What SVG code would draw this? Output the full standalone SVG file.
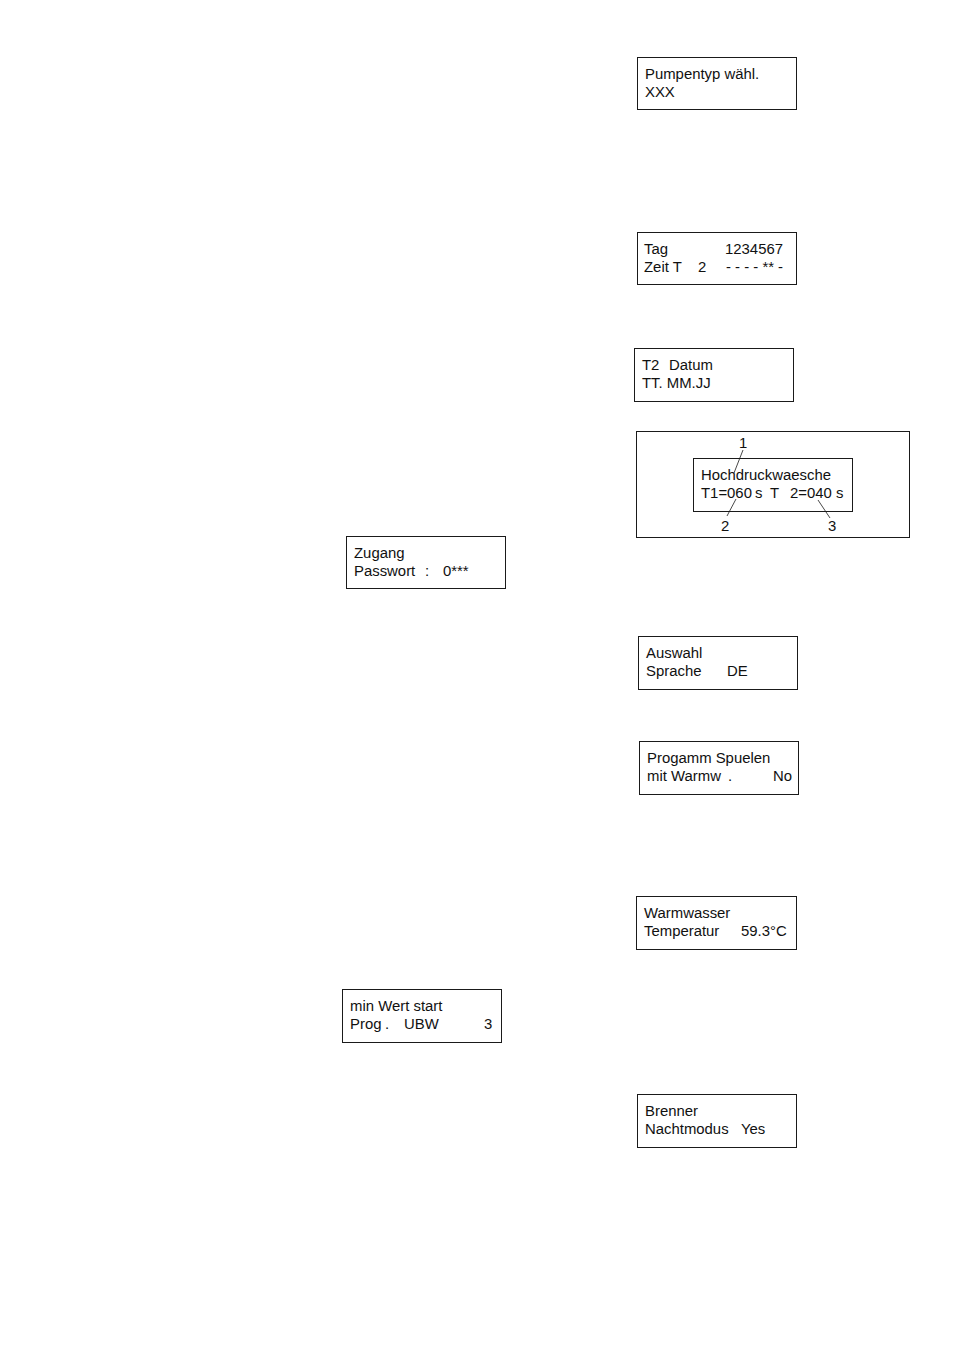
<svg xmlns="http://www.w3.org/2000/svg" width="954" height="1350" viewBox="0 0 954 1350">
<style>
.b{fill:none;stroke:#1a1a1a;stroke-width:1}
.t{font-family:"Liberation Sans",Arial,sans-serif;font-size:14.9px;fill:#111;white-space:pre}
.l{stroke:#1a1a1a;stroke-width:0.8;fill:none}
</style>
<rect width="954" height="1350" fill="#fff"/>
<g id="pumpentyp"><rect class="b" x="637.5" y="57.5" width="159" height="52"/>
<text class="t" x="645" y="79">Pumpentyp wähl.</text><text class="t" x="645" y="97">XXX</text></g>
<g id="tag"><rect class="b" x="637.5" y="232.5" width="159" height="52"/>
<text class="t" x="644" y="254">Tag</text><text class="t" x="725" y="254">1234567</text>
<text class="t" x="644" y="272">Zeit T</text><text class="t" x="698" y="272">2</text><text class="t" x="726" y="272" xml:space="preserve">- - - - ** -</text></g>
<g id="datum"><rect class="b" x="634.5" y="348.5" width="159" height="53"/>
<text class="t" x="642" y="370">T2</text><text class="t" x="669" y="370">Datum</text><text class="t" x="642" y="388">TT. MM.JJ</text></g>
<g id="hochdruck"><rect class="b" x="636.5" y="431.5" width="273" height="106"/>
<rect class="b" x="693.5" y="458.5" width="159" height="53"/>
<text class="t" x="701" y="480">Hochdruckwaesche</text>
<text class="t" x="701" y="498">T1=060</text><text class="t" x="755" y="498">s</text><text class="t" x="770" y="498">T</text><text class="t" x="790" y="498">2=040</text><text class="t" x="836" y="498">s</text>
<text class="t" x="739" y="448">1</text><text class="t" x="721" y="531">2</text><text class="t" x="828" y="531">3</text></g>
<g id="zugang"><rect class="b" x="346.5" y="536.5" width="159" height="52"/>
<text class="t" x="354" y="558">Zugang</text><text class="t" x="354" y="576">Passwort</text><text class="t" x="425" y="576">:</text><text class="t" x="443" y="576">0***</text></g>
<g id="auswahl"><rect class="b" x="638.5" y="636.5" width="159" height="53"/>
<text class="t" x="646" y="658">Auswahl</text><text class="t" x="646" y="676">Sprache</text><text class="t" x="727" y="676">DE</text></g>
<g id="progamm"><rect class="b" x="639.5" y="741.5" width="159" height="53"/>
<text class="t" x="647" y="763">Progamm Spuelen</text><text class="t" x="647" y="781">mit Warmw</text><text class="t" x="728" y="781">.</text><text class="t" x="773" y="781">No</text></g>
<g id="warmwasser"><rect class="b" x="636.5" y="896.5" width="160" height="53"/>
<text class="t" x="644" y="918">Warmwasser</text><text class="t" x="644" y="936">Temperatur</text><text class="t" x="741" y="936">59.3°C</text></g>
<g id="minwert"><rect class="b" x="342.5" y="989.5" width="159" height="53"/>
<text class="t" x="350" y="1011">min Wert start</text><text class="t" x="350" y="1029">Prog</text><text class="t" x="385" y="1029">.</text><text class="t" x="404" y="1029">UBW</text><text class="t" x="484" y="1029">3</text></g>
<g id="brenner"><rect class="b" x="637.5" y="1094.5" width="159" height="53"/>
<text class="t" x="645" y="1116">Brenner</text><text class="t" x="645" y="1134">Nachtmodus</text><text class="t" x="741" y="1134">Yes</text></g>
<g id="connectors">
<path class="l" d="M743 450L734 473"/>
<path class="l" d="M727 516L736 499"/>
<path class="l" d="M830 518L818 500"/>
</g>
</svg>
